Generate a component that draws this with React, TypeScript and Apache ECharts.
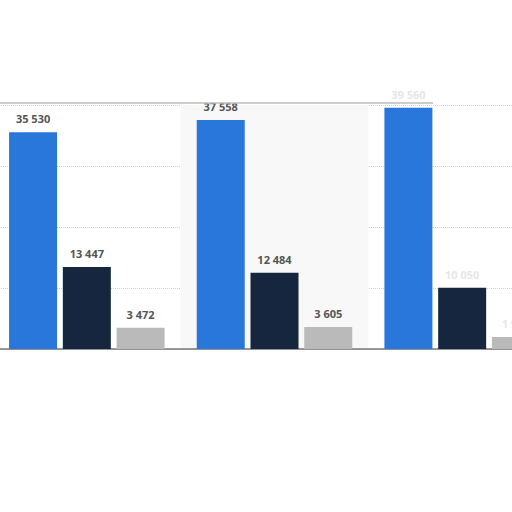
import { useEffect, useRef } from 'react';
import * as echarts from 'echarts';

const categories = ['Group 1', 'Group 2', 'Group 3'];
const seriesBlue = [35530, 37558, 39560];
const seriesNavy = [13447, 12484, 10050];
const seriesGray = [3472, 3605, 1970];

const colors = ['#2a77dc', '#15263e', '#bababa'];
const fadedIndex = 2;

const fmt = (v: number) => String(v).replace(/\B(?=(\d{3})+(?!\d))/g, ' ');

function makeSeries(name: string, values: number[], color: string) {
    return {
        name,
        type: 'bar',
        barWidth: 48,
        barGap: '12%',
        itemStyle: { color },
        label: {
            show: true,
            position: 'top',
            distance: 8,
            color: '#555',
            fontSize: 11,
            fontWeight: 'bold',
            fontFamily: 'Open Sans, sans-serif',
            formatter: (p: any) => fmt(p.value),
        },
        data: values.map((v, i) =>
            i === fadedIndex ? { value: v, label: { color: '#e6e6e6' } } : v
        ),
    };
}

export default function App() {
    const chartRef = useRef<HTMLDivElement>(null);

    useEffect(() => {
        document.body.style.margin = '0';
        if (!chartRef.current) return;
        const chart = echarts.init(chartRef.current, undefined, { renderer: 'svg' });

        chart.setOption({
            animation: false,
            backgroundColor: '#fff',
            grid: { left: 0, right: 0, top: 105, height: 244 },
            xAxis: {
                type: 'category',
                data: categories,
                axisTick: { show: false },
                axisLabel: { show: false },
                axisLine: { lineStyle: { color: '#777', width: 1.5 } },
                splitArea: {
                    show: true,
                    areaStyle: { color: ['rgba(255,255,255,0)', '#f8f8f8'] },
                },
            },
            yAxis: {
                type: 'value',
                min: 0,
                max: 40000,
                interval: 10000,
                axisLabel: { show: false },
                axisLine: { show: false },
                axisTick: { show: false },
                splitLine: { lineStyle: { color: '#d0d0d0', type: 'dotted' } },
            },
            graphic: [
                {
                    type: 'line',
                    shape: { x1: 7, y1: 103, x2: 440, y2: 103 },
                    style: { stroke: '#bdbdbd', lineWidth: 1.5 },
                    z: 10,
                },
            ],
            series: [
                makeSeries('Series A', seriesBlue, colors[0]),
                makeSeries('Series B', seriesNavy, colors[1]),
                makeSeries('Series C', seriesGray, colors[2]),
            ],
        });

        return () => {
            chart.dispose();
        };
    }, []);

    return (
        <div style={{ width: 512, height: 512, overflow: 'hidden', position: 'relative', background: '#fff' }}>
            <div ref={chartRef} style={{ position: 'absolute', left: -7, top: 0, width: 563, height: 512 }} />
        </div>
    );
}
